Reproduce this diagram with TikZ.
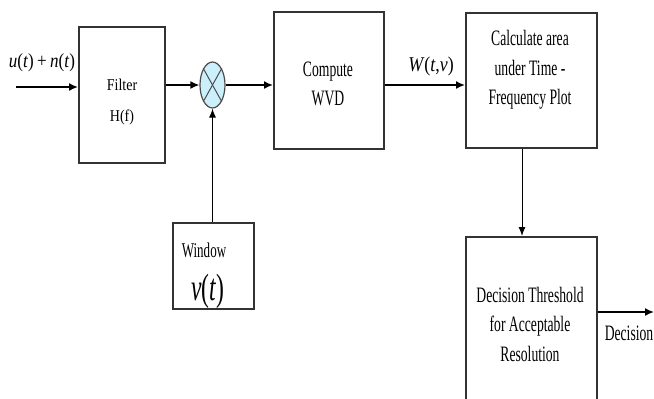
\documentclass[tikz,border=0pt]{standalone}
\usepackage{fontspec}
\setmainfont{Liberation Serif}
\newfontfamily\nf[FakeStretch=0.62]{Liberation Serif}
\newfontfamily\mf[FakeStretch=0.85]{Liberation Serif}
\usetikzlibrary{arrows.meta,shapes.geometric}
\begin{document}
\begin{tikzpicture}[x=1pt,y=-1pt,
  box/.style={draw=black!80, line width=1.5pt, inner sep=0pt, anchor=north west},
  txt/.style={align=center, inner sep=0pt, text=black},
  bodyfont/.style={font=\nf\fontsize{22}{29.5}\selectfont},
  arr/.style={-{Latex[length=9pt,width=8pt]}, line width=1.6pt, draw=black},
  arrthin/.style={-{Latex[length=9pt,width=7pt]}, line width=1pt, draw=black}]
\clip (0,0) rectangle (654,399);
\fill[white] (0,0) rectangle (654,399);
% boxes
\node[box, minimum width=86pt, minimum height=136pt] (filter) at (78,26) {};
\node[box, minimum width=110pt, minimum height=137pt] (wvd) at (273,11) {};
\node[box, minimum width=131pt, minimum height=135pt] (calc) at (465,12) {};
\node[box, minimum width=131pt, minimum height=200pt] (dec) at (465,236) {};
\node[box, minimum width=81pt, minimum height=86pt] (win) at (172,222) {};
\node[draw=black!70, fill=cyan!20, ellipse, minimum width=25pt, minimum height=46pt,
      inner sep=0pt, line width=1.2pt] (mult) at (212.5,85) {};
\draw[black!70, line width=1pt] (mult.north east) -- (mult.south west);
\draw[black!70, line width=1pt] (mult.north west) -- (mult.south east);
% texts
\node[txt, font=\mf\fontsize{16.5}{31}\selectfont] (tfilter) at (122,102) {Filter\\H(f)};
\node[txt, bodyfont] (twvd) at (328,84) {Compute\\WVD};
\node[txt, bodyfont] (tcalc) at (530,70) {Calculate area\\under Time -\\Frequency Plot};
\node[txt, bodyfont] (tdec) at (530,324) {Decision Threshold\\for Acceptable\\Resolution};
\node[txt, font=\nf\fontsize{21}{25}\selectfont] (twin) at (204,250) {Window};
\node[txt, font=\nf\fontsize{38}{40}\selectfont] (tv) at (208,291) {\textit{ν}(\textit{t})};
\node[txt, font=\mf\fontsize{20}{24}\selectfont] (lin) at (42,63) {\textit{u}(\textit{t})\,+\,\textit{n}(\textit{t})};
\node[txt, font=\mf\fontsize{21}{24}\selectfont] (lw) at (431,66) {\textit{W}(\textit{t},\textit{ν})};
\node[txt, bodyfont] (ldec) at (629,333) {Decision};
% connectors
\coordinate (in) at (16,87);
\coordinate (vx) at (522,0);
\coordinate (out) at (654,312);
\draw[arr] (in) -- (in -| filter.west);
\draw[arr] (filter.east |- mult) -- (mult.west);
\draw[arr] (mult.east) -- (mult.east -| wvd.west);
\draw[arr] (mult.east -| wvd.east) -- (mult.east -| calc.west);
\draw[arrthin] (vx |- calc.south) -- (vx |- dec.north);
\draw[arrthin] (win.north -| mult) -- (mult.south);
\draw[arr] (out -| dec.east) -- (out);
\end{tikzpicture}
\end{document}
